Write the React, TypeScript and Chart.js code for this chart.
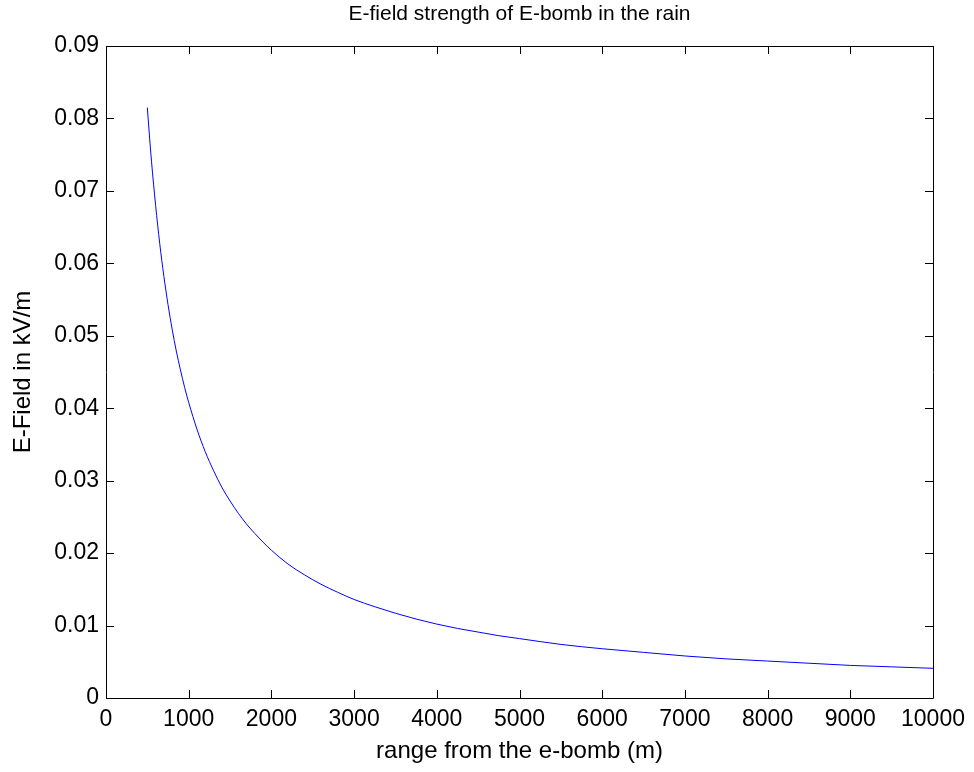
import React, { useEffect, useRef } from "react";
import { Chart, registerables } from "chart.js";

Chart.register(...registerables);

const chartTitle = "E-field strength of E-bomb in the rain";
const xAxisTitle = "range from the e-bomb (m)";
const yAxisTitle = "E-Field in kV/m";

const rangeMeters = [
  500, 520, 550, 600, 650, 700, 750, 800, 850, 900, 950, 1000, 1100, 1200, 1300,
  1400, 1500, 1600, 1700, 1800, 1900, 2000, 2200, 2400, 2600, 2800, 3000, 3250,
  3500, 3750, 4000, 4250, 4500, 4750, 5000, 5500, 6000, 6500, 7000, 7500, 8000,
  8500, 9000, 9500, 10000,
];
const eFieldKVm = [
  0.0815, 0.0784, 0.0741, 0.068, 0.0627, 0.0582, 0.0543, 0.0509, 0.0479, 0.0453,
  0.0429, 0.0408, 0.0371, 0.034, 0.0314, 0.0291, 0.0272, 0.0255, 0.024, 0.0227,
  0.0215, 0.0204, 0.0185, 0.017, 0.0157, 0.0146, 0.0136, 0.0126, 0.0117, 0.0109,
  0.0102, 0.0096, 0.0091, 0.0086, 0.0082, 0.0074, 0.0068, 0.0063, 0.0058,
  0.0054, 0.0051, 0.0048, 0.0045, 0.0043, 0.0041,
];

const xTicks = [0, 1000, 2000, 3000, 4000, 5000, 6000, 7000, 8000, 9000, 10000];
const xTickLabels = ["0", "1000", "2000", "3000", "4000", "5000", "6000", "7000", "8000", "9000", "10000"];
const yTicks = [0, 0.01, 0.02, 0.03, 0.04, 0.05, 0.06, 0.07, 0.08, 0.09];
const yTickLabels = ["0", "0.01", "0.02", "0.03", "0.04", "0.05", "0.06", "0.07", "0.08", "0.09"];

const FONT = "'Liberation Sans', Arial, Helvetica, sans-serif";

const matlabBox = {
  id: "matlabBox",
  afterDraw(chart: any) {
    const { ctx, chartArea } = chart;
    const { left, right, top, bottom } = chartArea;
    const xs = chart.scales.x;
    const ys = chart.scales.y;
    const tl = 8;
    ctx.save();
    ctx.strokeStyle = "#000";
    ctx.lineWidth = 1;
    ctx.beginPath();
    ctx.rect(Math.round(left) + 0.5, Math.round(top) + 0.5, Math.round(right - left), Math.round(bottom - top));
    ctx.stroke();
    ctx.beginPath();
    xTicks.forEach((v) => {
      const px = Math.round(xs.getPixelForValue(v)) + 0.5;
      ctx.moveTo(px, bottom);
      ctx.lineTo(px, bottom - tl);
      ctx.moveTo(px, top);
      ctx.lineTo(px, top + tl);
    });
    yTicks.forEach((v) => {
      const py = Math.round(ys.getPixelForValue(v)) + 0.5;
      ctx.moveTo(left, py);
      ctx.lineTo(left + tl, py);
      ctx.moveTo(right, py);
      ctx.lineTo(right - tl, py);
    });
    ctx.stroke();
    ctx.fillStyle = "#000";
    ctx.font = `21px ${FONT}`;
    ctx.textAlign = "center";
    ctx.textBaseline = "middle";
    ctx.fillText(chartTitle, (left + right) / 2, 14);
    ctx.restore();
  },
};

export default function App() {
  const ref = useRef<HTMLCanvasElement>(null);
  useEffect(() => {
    if (!ref.current) return;
    const chart = new Chart(ref.current, {
      type: "line",
      data: {
        datasets: [
          {
            data: rangeMeters.map((x, i) => ({ x, y: eFieldKVm[i] })),
            borderColor: "#0000ff",
            borderWidth: 1,
            pointRadius: 0,
            tension: 0.4,
            cubicInterpolationMode: "monotone",
            fill: false,
          },
        ],
      },
      options: {
        animation: false,
        responsive: false,
        layout: { padding: { top: 46, right: 41, left: 0, bottom: 0 } },
        plugins: { legend: { display: false }, title: { display: false }, tooltip: { enabled: false } },
        scales: {
          x: {
            type: "linear",
            min: 0,
            max: 10000,
            afterFit: (s: any) => {
              s.height = 74;
            },
            afterBuildTicks: (s: any) => {
              s.ticks = xTicks.map((v) => ({ value: v }));
            },
            grid: { display: false, drawTicks: false },
            border: { display: false },
            ticks: {
              padding: 8,
              color: "#000",
              maxRotation: 0,
              autoSkip: false,
              font: { family: FONT, size: 23 },
              callback: (v: any) => {
                const i = xTicks.indexOf(Number(v));
                return i >= 0 ? xTickLabels[i] : "";
              },
            },
            title: {
              display: true,
              text: xAxisTitle,
              color: "#000",
              font: { family: FONT, size: 24, lineHeight: 1.2 },
              padding: { top: 0, bottom: 6 },
            },
          },
          y: {
            type: "linear",
            min: 0,
            max: 0.09,
            afterFit: (s: any) => {
              s.width = 106;
            },
            afterBuildTicks: (s: any) => {
              s.ticks = yTicks.map((v) => ({ value: v }));
            },
            grid: { display: false, drawTicks: false },
            border: { display: false },
            ticks: {
              padding: 7,
              color: "#000",
              autoSkip: false,
              font: { family: FONT, size: 23 },
              callback: (v: any) => {
                let best = 0;
                yTicks.forEach((t, i) => {
                  if (Math.abs(t - Number(v)) < Math.abs(yTicks[best] - Number(v))) best = i;
                });
                return yTickLabels[best];
              },
            },
            title: {
              display: true,
              text: yAxisTitle,
              color: "#000",
              font: { family: FONT, size: 24, lineHeight: 1.2 },
              padding: { top: 9, bottom: 0 },
            },
          },
        },
      },
      plugins: [matlabBox],
    } as any);
    return () => chart.destroy();
  }, []);
  return (
    <div style={{ position: "absolute", left: 0, top: 0, width: 974, height: 772, background: "#fff" }}>
      <canvas ref={ref} width={974} height={772} />
    </div>
  );
}
